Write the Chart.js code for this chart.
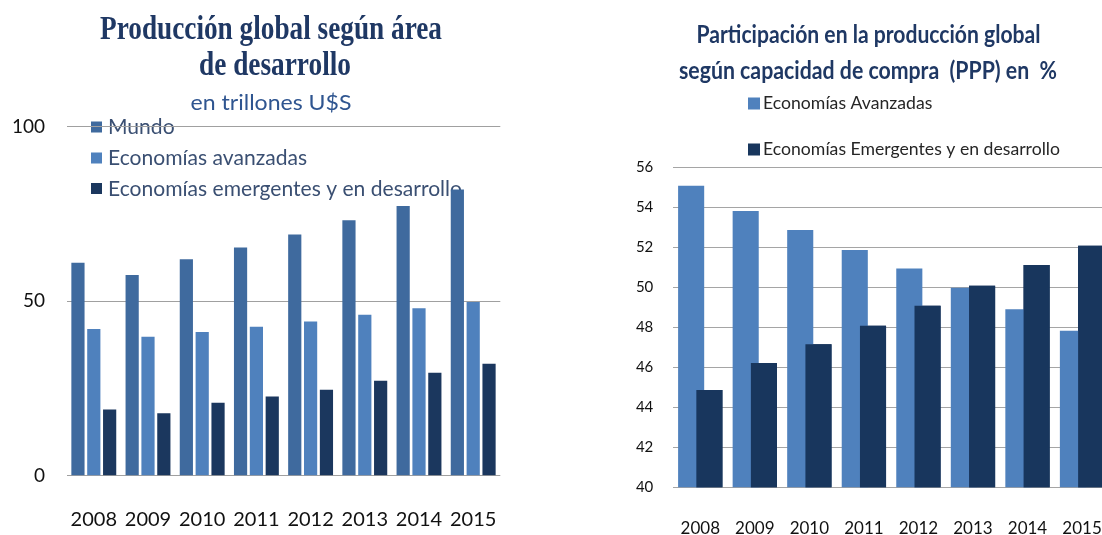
<!DOCTYPE html>
<html>
<head>
<meta charset="utf-8">
<script src="https://cdn.jsdelivr.net/npm/chart.js@4.4.1/dist/chart.umd.min.js"></script>
<style>
html, body { margin: 0; padding: 0; background: #fff; overflow: hidden; width: 1102px; height: 535px; }
#chart_produccionGlobal { position: absolute; left: 0; top: 0; }
#rightWrap { position: absolute; left: 560px; top: 0; width: 542px; height: 535px; overflow: hidden; }
#rightInner { position: absolute; left: 0; top: 0; width: 566px; height: 535px; }
</style>
</head>
<body>
<canvas id="chart_produccionGlobal" width="550" height="535"></canvas>
<div id="rightWrap"><div id="rightInner"><canvas id="chart_participacionPPP" width="566" height="535"></canvas></div></div>
<script>
// categories
var years = ['2008', '2009', '2010', '2011', '2012', '2013', '2014', '2015'];

// left panel: trillions of US$
var mundo = [61.0, 57.5, 62.0, 65.4, 69.1, 73.2, 77.3, 82.0];
var avanzadas = [42.0, 39.8, 41.2, 42.7, 44.2, 46.1, 48.0, 49.8];
var emergentes = [19.0, 17.9, 20.9, 22.7, 24.6, 27.2, 29.5, 32.1];

// right panel: share of global output (PPP), %
var avanzadasPct = [55.08, 53.82, 52.87, 51.87, 50.94, 49.98, 48.90, 47.83];
var emergentesPct = [44.87, 46.22, 47.15, 48.08, 49.08, 50.08, 51.12, 52.08];

Chart.defaults.font.family = 'Lato';
Chart.defaults.color = '#1a1a1a';

// draws text stretched/squeezed horizontally to a given width
function drawFitted(ctx, text, x, y, width, font, color, align) {
    ctx.save();
    ctx.font = font;
    ctx.fillStyle = color;
    ctx.textBaseline = 'middle';
    ctx.textAlign = 'left';
    var natural = ctx.measureText(text).width;
    var sx = width / natural;
    var left = align === 'center' ? x - width / 2 : x;
    ctx.translate(left, y);
    ctx.scale(sx, 1);
    ctx.fillText(text, 0, 0);
    ctx.restore();
    return sx;
}

function drawScaled(ctx, text, x, y, sx, font, color) {
    ctx.save();
    ctx.font = font;
    ctx.fillStyle = color;
    ctx.textBaseline = 'middle';
    ctx.textAlign = 'left';
    ctx.translate(x, y);
    ctx.scale(sx, 1);
    ctx.fillText(text, 0, 0);
    ctx.restore();
}

// titles + legend, painted before the grid so lines and bars go over them
function panelText(spec) {
    return {
        id: 'panelText',
        beforeDraw: function(chart) {
            var ctx = chart.ctx;
            spec.titles.forEach(function(t) {
                drawFitted(ctx, t.text, t.x, t.y, t.w, t.font, t.color, 'center');
            });
            var lg = spec.legend;
            var datasets = chart.data.datasets;
            ctx.save();
            ctx.font = lg.font;
            var sx = lg.longestWidth / ctx.measureText(datasets[lg.longestIndex].label).width;
            ctx.restore();
            datasets.forEach(function(ds, i) {
                var y = lg.rows[i];
                ctx.fillStyle = ds.backgroundColor;
                ctx.fillRect(lg.boxX, y - lg.box / 2, lg.box, lg.box);
                drawScaled(ctx, ds.label, lg.textX, y, sx, lg.font, lg.color);
            });
        }
    };
}

// Chart.js paints the first dataset on top; repaint the second one so it covers the overlap
var secondOnTop = {
    id: 'secondOnTop',
    afterDatasetsDraw: function(chart) {
        var area = chart.chartArea;
        var ctx = chart.ctx;
        ctx.save();
        ctx.beginPath();
        ctx.rect(area.left, area.top, area.right - area.left, area.bottom - area.top);
        ctx.clip();
        chart.getDatasetMeta(1).controller.draw();
        ctx.restore();
    }
};

var chart_produccionGlobal = new Chart(document.getElementById('chart_produccionGlobal'), {
    type: 'bar',
    data: {
        labels: years,
        datasets: [
            { label: 'Mundo', data: mundo, backgroundColor: '#3f6a9e' },
            { label: 'Economías avanzadas', data: avanzadas, backgroundColor: '#4f81bd' },
            { label: 'Economías emergentes y en desarrollo', data: emergentes, backgroundColor: '#1b375e' }
        ]
    },
    options: {
        animation: false,
        responsive: false,
        categoryPercentage: 0.877,
        barPercentage: 0.833,
        layout: { padding: { top: 126.7, right: 49.7, bottom: 0, left: 0 } },
        plugins: {
            legend: { display: false },
            tooltip: { enabled: false }
        },
        scales: {
            x: {
                grid: { display: false },
                border: { display: false },
                ticks: { font: { size: 20 }, color: '#111', padding: 23.6 },
                afterFit: function(scale) { scale.height = 59.3; }
            },
            y: {
                min: 0,
                max: 100,
                ticks: { stepSize: 50, font: { size: 19 }, color: '#111', padding: 21.7 },
                grid: { color: '#a0a0a0', lineWidth: 1, drawTicks: false },
                border: { display: false },
                afterFit: function(scale) { scale.width = 66.7; }
            }
        }
    },
    plugins: [panelText({
        titles: [
            { text: 'Producción global según área', x: 271, y: 30, w: 342, font: 'bold 34px "Liberation Serif"', color: '#1f3864' },
            { text: 'de desarrollo', x: 275, y: 66, w: 152, font: 'bold 34px "Liberation Serif"', color: '#1f3864' },
            { text: 'en trillones U$S', x: 271, y: 103, w: 161, font: '21px Lato', color: '#2f5590' }
        ],
        legend: {
            boxX: 91, box: 11, textX: 108,
            rows: [127, 158, 188.5],
            font: '22px Lato', color: '#3a4f72',
            longestIndex: 2, longestWidth: 354
        }
    })]
});

var chart_participacionPPP = new Chart(document.getElementById('chart_participacionPPP'), {
    type: 'bar',
    data: {
        labels: years,
        datasets: [
            { label: 'Economías Avanzadas', data: avanzadasPct, backgroundColor: '#4f81bd' },
            { label: 'Economías Emergentes y en desarrollo', data: emergentesPct, backgroundColor: '#18365d' }
        ]
    },
    options: {
        animation: false,
        responsive: false,
        // bars wider than their slot so the pair overlaps a little
        categoryPercentage: 0.669,
        barPercentage: 1.43,
        layout: { padding: { top: 167.3, right: 11.8, bottom: 0, left: 0 } },
        plugins: {
            legend: { display: false },
            tooltip: { enabled: false }
        },
        scales: {
            x: {
                grid: { display: false },
                border: { display: false },
                ticks: { font: { size: 17 }, color: '#111', padding: 23.5 },
                afterFit: function(scale) { scale.height = 47.7; }
            },
            y: {
                min: 40,
                max: 56,
                ticks: { stepSize: 2, font: { size: 15 }, color: '#111', padding: 19.7 },
                grid: { color: '#a5a5a5', lineWidth: 1, drawTicks: false },
                border: { display: false },
                afterFit: function(scale) { scale.width = 113; }
            }
        }
    },
    plugins: [panelText({
        titles: [
            { text: 'Participación en la producción global', x: 308.5, y: 35, w: 344, font: 'bold 24px Lato', color: '#1f3864' },
            { text: 'según capacidad de compra  (PPP) en  %', x: 308, y: 71.5, w: 378, font: 'bold 24px Lato', color: '#1f3864' }
        ],
        legend: {
            boxX: 188, box: 12, textX: 203,
            rows: [103.5, 149.5],
            font: '18px Lato', color: '#262626',
            longestIndex: 1, longestWidth: 297
        }
    }), secondOnTop]
});
</script>
</body>
</html>
